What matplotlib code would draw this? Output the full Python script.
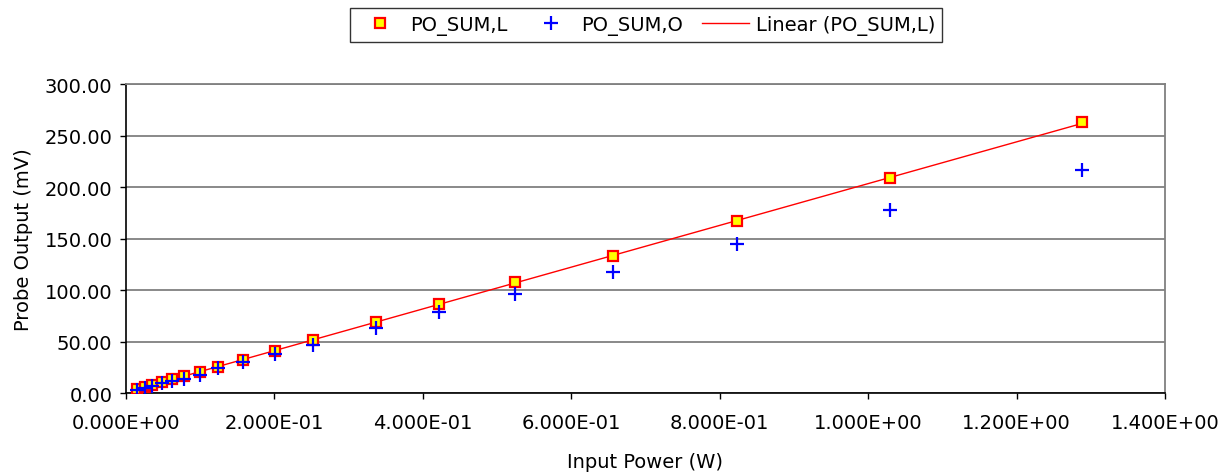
import matplotlib
matplotlib.use("Agg")
import matplotlib.pyplot as plt
import numpy as np
from matplotlib.ticker import FormatStrFormatter, MultipleLocator

# input power (W) and probe outputs (mV)
input_power = [0.016, 0.026, 0.036, 0.049, 0.062, 0.079, 0.101, 0.125, 0.158,
               0.201, 0.252, 0.338, 0.422, 0.525, 0.656, 0.823, 1.030, 1.288]
po_sum_l = [4.0, 6.0, 8.0, 10.5, 13.5, 16.5, 20.5, 25.5, 32.5,
            41.0, 51.0, 68.6, 86.0, 107.5, 132.7, 167.3, 208.4, 262.8]
po_sum_o = [3.2, 4.6, 6.5, 9.4, 11.7, 13.6, 17.5, 24.3, 30.5,
            37.6, 46.9, 62.8, 78.9, 96.1, 117.2, 144.7, 178.0, 216.5]

plt.rcParams["font.family"] = ["DejaVu Sans"]

fig = plt.figure(figsize=(12.28, 4.77), dpi=100)
ax = fig.add_axes([0.1022, 0.174, 0.8465, 0.6478])

x = np.array(input_power)
# linear trendline of PO_SUM,L, over the data range
coef = np.polyfit(x, po_sum_l, 1)
xfit = np.array([x.min(), x.max()])

ax.plot(xfit, np.polyval(coef, xfit), color="red", lw=1.0, zorder=2,
        label="Linear (PO_SUM,L)")
ax.plot(x, po_sum_l, ls="none", marker="s", ms=7, mfc="yellow", mec="red",
        mew=1.6, zorder=3, label="PO_SUM,L")
ax.plot(x, po_sum_o, ls="none", marker="+", ms=10, mew=1.6, color="blue",
        zorder=4, label="PO_SUM,O")

ax.set_xlim(0, 1.4)
ax.set_ylim(0, 300)
ax.xaxis.set_major_locator(MultipleLocator(0.2))
ax.yaxis.set_major_locator(MultipleLocator(50))
ax.xaxis.set_major_formatter(FormatStrFormatter("%.3E"))
ax.yaxis.set_major_formatter(FormatStrFormatter("%.2f"))
ax.yaxis.grid(True, color="#808080", lw=1.3)
ax.set_axisbelow(True)

for side in ("top", "right"):
    ax.spines[side].set_color("#808080")
    ax.spines[side].set_linewidth(1.3)
for side in ("left", "bottom"):
    ax.spines[side].set_color("black")
    ax.spines[side].set_linewidth(1.2)
ax.tick_params(axis="both", direction="out", length=4.5, width=1, labelsize=14)
ax.tick_params(axis="y", pad=5)
ax.tick_params(axis="x", pad=10)

ax.set_xlabel("Input Power (W)", fontsize=14, labelpad=14)
ax.set_ylabel("Probe Output (mV)", fontsize=14, labelpad=8)

handles, labels = ax.get_legend_handles_labels()
order = [1, 2, 0]
leg = fig.legend([handles[i] for i in order], [labels[i] for i in order],
                 loc="center", bbox_to_anchor=(0.526, 0.945), ncol=3,
                 fontsize=14, frameon=True, fancybox=False, borderpad=0.35,
                 handlelength=2.4, columnspacing=1.0, handletextpad=0.35)
leg.get_frame().set_edgecolor("black")
leg.get_frame().set_linewidth(1.0)

fig.savefig("out.png", dpi=100)
